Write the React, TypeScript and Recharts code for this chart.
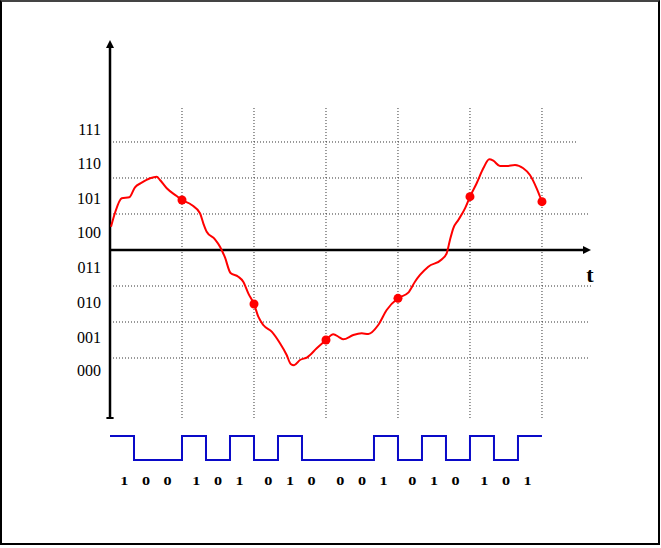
import React from 'react';
import {
  ComposedChart,
  Line,
  Scatter,
  XAxis,
  YAxis,
  ReferenceLine,
  ReferenceDot,
} from 'recharts';

// Analog signal (x in sampling periods, y in quantisation levels)
const curveX = [
  0.014, 0.069, 0.163, 0.268, 0.347, 0.44, 0.556, 0.649, 0.694, 0.788, 0.926, 1.0,
  1.135, 1.25, 1.296, 1.343, 1.458, 1.528, 1.597, 1.674, 1.782, 1.851, 1.921, 2.0,
  2.06, 2.129, 2.246, 2.361, 2.454, 2.51, 2.556, 2.639, 2.74, 2.871, 3.0, 3.101,
  3.185, 3.24, 3.379, 3.496, 3.588, 3.726, 3.843, 4.0, 4.143, 4.236, 4.306, 4.421,
  4.606, 4.676, 4.722, 4.768, 4.838, 4.931, 5.0, 5.093, 5.185, 5.268, 5.324, 5.417,
  5.51, 5.625, 5.74, 5.833, 5.926, 6.0,
];
const curveY = [
  0.647, 1.028, 1.436, 1.464, 1.742, 1.869, 1.992, 2.036, 1.944, 1.714, 1.5, 1.389,
  1.25, 1.019, 0.742, 0.508, 0.297, 0.092, -0.208, -0.639, -0.742, -0.881, -1.203, -1.5,
  -1.853, -2.083, -2.269, -2.592, -2.917, -3.167, -3.203, -3.056, -2.981, -2.731, -2.5, -2.339,
  -2.425, -2.481, -2.361, -2.314, -2.333, -2.083, -1.667, -1.342, -1.186, -0.881, -0.694, -0.464,
  -0.264, -0.092, 0.278, 0.603, 0.833, 1.158, 1.481, 1.853, 2.269, 2.519, 2.481, 2.333,
  2.333, 2.361, 2.269, 2.083, 1.714, 1.342,
];

// Sample points
const sampleX = [1, 2, 3, 4, 5, 6];
const sampleY = [1.389, -1.5, -2.5, -1.342, 1.481, 1.342];

// Level labels on the vertical axis
const levelLabels = ['111', '110', '101', '100', '011', '010', '001', '000'];
const levelLabelPos = [3.361, 2.417, 1.444, 0.5, -0.472, -1.444, -2.417, -3.333];

// Grid
const vGridX = [1, 2, 3, 4, 5, 6];
const hGridY = [3, 2, 1, -1, -2, -3];
const hGridEnd = [6.486, 6.569, 6.653, 6.694, 6.639, 6.639];

// Digital code
const bits = [1, 0, 0, 1, 0, 1, 0, 1, 0, 0, 0, 1, 0, 1, 0, 1, 0, 1];
const BITS_PER_WORD = 3;
const HIGH = -5.167;
const LOW = -5.833;
const BIT_LABEL_Y = -6.417;
const LABEL_SPACING = 0.3; // spacing of digits inside a code word (units)

// Axis geometry (data units)
const X_DOMAIN: [number, number] = [0, 6.806];
const Y_DOMAIN: [number, number] = [-6.944, 5.833];
const V_AXIS_BOTTOM = -4.667;
const V_AXIS_TOP = 5.833;
const V_GRID_TOP = 3.972;
const H_AXIS_TIP = 6.681;
const T_LABEL = { x: 6.667, y: -0.889 };

const SERIF = "'Liberation Serif', 'Times New Roman', Times, serif";

const curveData = curveX.map((x, i) => ({ x, y: curveY[i] }));
const sampleData = sampleX.map((x, i) => ({ x, y: sampleY[i] }));
const signalData = [
  ...bits.map((b, i) => ({ x: i / BITS_PER_WORD, y: b ? HIGH : LOW })),
  { x: bits.length / BITS_PER_WORD, y: bits[bits.length - 1] ? HIGH : LOW },
];
const bitLabelData = bits.map((b, i) => {
  const word = Math.floor(i / BITS_PER_WORD);
  const j = i % BITS_PER_WORD;
  return { x: word + 0.5 + (j - 1) * LABEL_SPACING, y: BIT_LABEL_Y, bit: b };
});

const UpArrow = (props: any) => {
  const { cx, cy } = props;
  return <path d={`M${cx},${cy} L${cx - 4},${cy + 8} L${cx + 4},${cy + 8} Z`} fill="#000" />;
};
const RightArrow = (props: any) => {
  const { cx, cy } = props;
  return <path d={`M${cx},${cy} L${cx - 8},${cy - 4} L${cx - 8},${cy + 4} Z`} fill="#000" />;
};
const TLabel = (props: any) => {
  const { cx, cy } = props;
  return (
    <text
      x={cx}
      y={cy}
      textAnchor="middle"
      fontFamily={SERIF}
      fontWeight="bold"
      fontSize={22}
      fill="#000"
    >
      t
    </text>
  );
};
const BitLabel = (props: any) => {
  const { cx, cy, payload } = props;
  return (
    <text
      x={0}
      y={0}
      dy="0.36em"
      transform={`translate(${cx},${cy}) scale(1.35,1)`}
      textAnchor="middle"
      fontFamily={SERIF}
      fontWeight="bold"
      fontSize={12}
      fill="#000"
    >
      {String(payload.bit)}
    </text>
  );
};
const SampleDot = (props: any) => {
  const { cx, cy } = props;
  return <circle cx={cx} cy={cy} r={4.5} fill="#ff0000" />;
};

export default function App() {
  return (
    <div
      style={{
        position: 'absolute',
        left: 0,
        top: 0,
        width: 660,
        height: 545,
        boxSizing: 'border-box',
        border: '2px solid #000',
        borderTopColor: '#444',
        background: '#fff',
      }}
    >
      <div style={{ position: 'absolute', left: -2, top: -2 }}>
        <ComposedChart
          width={661}
          height={548}
          margin={{ top: 40, right: 61, bottom: 48, left: 0 }}
        >
          <XAxis type="number" dataKey="x" domain={X_DOMAIN} allowDataOverflow hide />
          <YAxis
            type="number"
            dataKey="y"
            domain={Y_DOMAIN}
            allowDataOverflow
            width={110}
            ticks={levelLabelPos}
            interval={0}
            tickFormatter={(v: number, i: number) => levelLabels[i]}
            axisLine={false}
            tickLine={false}
            tickSize={0}
            tickMargin={9}
            tick={{ fontFamily: SERIF, fontSize: 16, fill: '#000' }}
          />

          {vGridX.map((gx) => (
            <ReferenceLine
              key={`v${gx}`}
              segment={[
                { x: gx, y: V_AXIS_BOTTOM },
                { x: gx, y: V_GRID_TOP },
              ]}
              stroke="#333"
              strokeWidth={1}
              strokeDasharray="1 2"
              ifOverflow="visible"
            />
          ))}
          {hGridY.map((gy, i) => (
            <ReferenceLine
              key={`h${gy}`}
              segment={[
                { x: 0, y: gy },
                { x: hGridEnd[i], y: gy },
              ]}
              stroke="#333"
              strokeWidth={1}
              strokeDasharray="1 2"
              ifOverflow="visible"
            />
          ))}

          {/* axes */}
          <ReferenceLine
            segment={[
              { x: 0, y: V_AXIS_BOTTOM },
              { x: 0, y: V_AXIS_TOP - 0.2 },
            ]}
            stroke="#000"
            strokeWidth={2.5}
            ifOverflow="visible"
          />
          <ReferenceLine
            segment={[
              { x: -0.05, y: V_AXIS_BOTTOM },
              { x: 0.05, y: V_AXIS_BOTTOM },
            ]}
            stroke="#000"
            strokeWidth={2}
            ifOverflow="visible"
          />
          <ReferenceLine
            segment={[
              { x: 0, y: 0 },
              { x: H_AXIS_TIP - 0.08, y: 0 },
            ]}
            stroke="#000"
            strokeWidth={2.5}
            ifOverflow="visible"
          />
          <ReferenceDot x={0} y={V_AXIS_TOP} shape={UpArrow} ifOverflow="visible" />
          <ReferenceDot x={H_AXIS_TIP} y={0} shape={RightArrow} ifOverflow="visible" />
          <ReferenceDot x={T_LABEL.x} y={T_LABEL.y} shape={TLabel} ifOverflow="visible" />

          <Line
            data={curveData}
            dataKey="y"
            type="monotone"
            stroke="#ff0000"
            strokeWidth={2}
            dot={false}
            activeDot={false}
            isAnimationActive={false}
          />
          <Scatter
            data={sampleData}
            dataKey="y"
            shape={SampleDot}
            isAnimationActive={false}
          />
          <Line
            data={signalData}
            dataKey="y"
            type="stepAfter"
            stroke="#0a0ac8"
            strokeWidth={2}
            dot={false}
            activeDot={false}
            isAnimationActive={false}
          />
          <Scatter
            data={bitLabelData}
            dataKey="y"
            shape={BitLabel}
            isAnimationActive={false}
          />
        </ComposedChart>
      </div>
    </div>
  );
}
